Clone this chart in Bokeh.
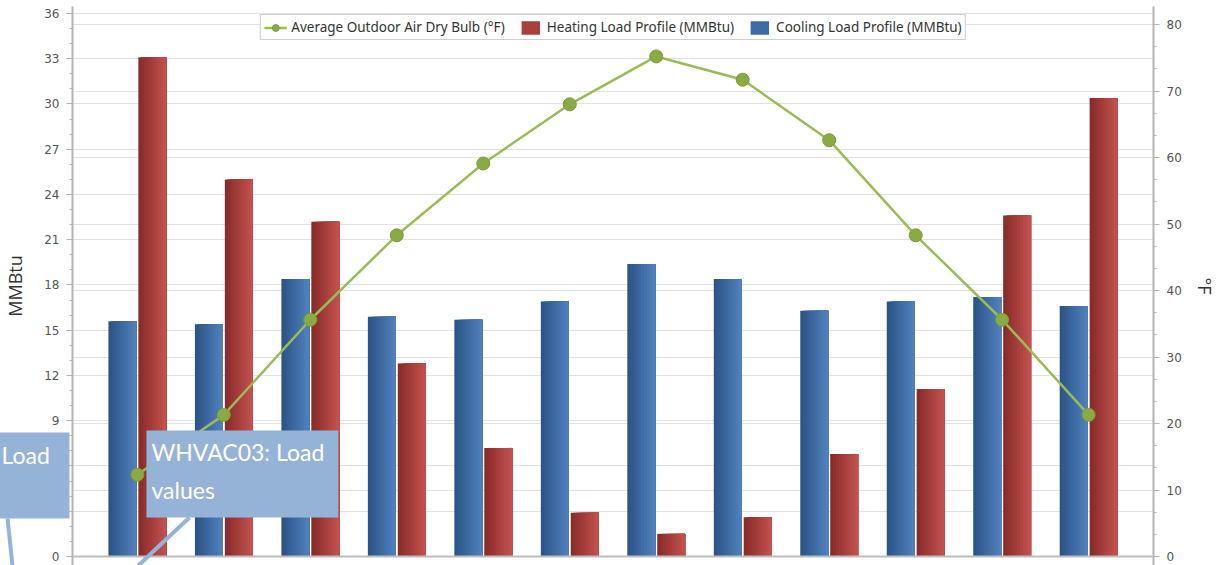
import numpy as np
from bokeh.plotting import figure
from bokeh.models import (Range1d, LinearAxis, SingleIntervalTicker, Grid, Legend,
                          LegendItem, Span)
from bokeh.core.properties import value
from bokeh.embed import file_html
from bokeh.resources import INLINE

# ---------------- data ----------------
months = ["Jan", "Feb", "Mar", "Apr", "May", "Jun",
          "Jul", "Aug", "Sep", "Oct", "Nov", "Dec"]
cooling_load = [15.6, 15.4, 18.4, 15.9, 15.7, 16.9, 19.4, 18.4, 16.3, 16.9, 17.2, 16.6]
heating_load = [33.1, 25.0, 22.2, 12.8, 7.2, 2.9, 1.5, 2.6, 6.8, 11.1, 22.6, 30.4]
outdoor_dry_bulb = [12.3, 21.3, 35.6, 48.3, 59.1, 68.0, 75.2, 71.7, 62.6, 48.3, 35.6, 21.3]

legend_labels = ["Average Outdoor Air Dry Bulb (°F)",
                 "Heating Load Profile (MMBtu)",
                 "Cooling Load Profile (MMBtu)"]
left_label = "MMBtu"
right_label = "°F"
callout_texts = ["WHVAC03: Load", "values", "Load"]

# ---------------- figure ----------------
W, H = 1222, 565
p = figure(width=W, height=H, output_backend="svg", toolbar_location=None,
           x_range=Range1d(-0.75, 11.75), y_range=Range1d(-0.597, 36.464),
           x_axis_location=None, y_axis_location="left",
           min_border_left=71, min_border_right=69, min_border_top=6, min_border_bottom=0,
           outline_line_color=None, background_fill_color="white",
           border_fill_color="white")
p.extra_y_ranges = {"temp": Range1d(-1.353, 82.707)}
p.xgrid.visible = False

tick_font = "DejaVu Sans"
ya = p.yaxis[0]
ya.ticker = SingleIntervalTicker(interval=3, num_minor_ticks=3)
p.ygrid.ticker = ya.ticker
p.ygrid.grid_line_color = "#e2e2e2"

ra = LinearAxis(y_range_name="temp",
                ticker=SingleIntervalTicker(interval=10, num_minor_ticks=3))
p.add_layout(ra, "right")
p.add_layout(Grid(dimension=1, ticker=ra.ticker, y_range_name="temp",
                  grid_line_color="#e2e2e2"))

for ax, lab in ((ya, left_label), (ra, right_label)):
    ax.axis_label = lab
    ax.axis_label_text_font = "Open Sans"
    ax.axis_label_text_font_size = "18px"
    ax.axis_label_text_font_style = "normal"
    ax.axis_label_text_color = "#333333"
    ax.axis_label_standoff = 14
    ax.axis_line_color = "#b4b4b4"
    ax.axis_line_width = 2
    ax.major_tick_line_color = "#b4b4b4"
    ax.minor_tick_line_color = "#b4b4b4"
    ax.major_tick_out = 6
    ax.major_tick_in = 0
    ax.minor_tick_out = 3
    ax.minor_tick_in = 0
    ax.major_label_text_font = tick_font
    ax.major_label_text_font_size = "12px"
    ax.major_label_text_color = "#555555"
    ax.major_label_standoff = 7
ra.axis_label_standoff = 8

# ---------------- bars (horizontal shading by strips) ----------------
x = np.arange(len(months))
bw = 0.323
off = 0.173
nstrip = 10


def hex2rgb(h):
    h = h.lstrip("#")
    return tuple(int(h[i:i + 2], 16) for i in (0, 2, 4))


def lerp(c1, c2, t):
    a, b = hex2rgb(c1), hex2rgb(c2)
    return "#%02x%02x%02x" % tuple(int(round(a[i] + (b[i] - a[i]) * t)) for i in range(3))


def draw_bars(vals, offset, c_left, c_right):
    rs = []
    for k in range(nstrip):
        t = k / (nstrip - 1)
        col = lerp(c_left, c_right, t)
        left = x + offset - bw / 2 + k * bw / nstrip
        right = x + offset + bw / 2
        r = p.quad(left=left, right=right, bottom=0, top=vals,
                   fill_color=col, line_color=None)
        rs.append(r)
    return rs


cool_rs = draw_bars(cooling_load, -off, "#2c5487", "#4f80bc")
heat_rs = draw_bars(heating_load, off, "#8a2c2a", "#c0514e")

p.add_layout(Span(location=0, dimension="width", line_color="#bdbdbd", line_width=2))

line_r = p.line(x, outdoor_dry_bulb, y_range_name="temp",
                line_color="#9bbb59", line_width=2.5)
pt_r = p.scatter(x, outdoor_dry_bulb, y_range_name="temp", size=13,
                 fill_color="#8aab43", line_color="#7d9c3a", line_width=1)

legend = Legend(items=[
    LegendItem(label=legend_labels[0], renderers=[line_r, pt_r]),
    LegendItem(label=legend_labels[1], renderers=[heat_rs[nstrip // 2]]),
    LegendItem(label=legend_labels[2], renderers=[cool_rs[nstrip // 2]]),
], location="top_center", orientation="horizontal")
legend.label_text_font = "Noto Sans"
legend.label_text_font_size = "13.5px"
legend.label_text_color = "#333333"
legend.border_line_color = "#a0a0a0"
legend.border_line_width = 1
legend.background_fill_color = "white"
legend.background_fill_alpha = 1
legend.glyph_width = 23
legend.glyph_height = 17
legend.label_standoff = 5
legend.spacing = 14
legend.padding = 3
legend.margin = 8
p.add_layout(legend)

# ---------------- callouts (drawn on the overlay level) ----------------
callout_color = "#95b3d7"
p.segment(x0=[0.602, -1.501], y0=[2.586, 2.519], x1=[0.012, -1.444], y1=[-0.597, -0.597],
          line_color=callout_color, line_width=4, level="overlay")
p.quad(left=[0.105, -1.686], right=[2.323, -0.785], bottom=[2.586, 2.519],
       top=[8.354, 8.221], fill_color=callout_color, line_color=None, level="overlay")
p.text(x=[0.163, 0.163, -1.570], y=[6.90, 4.38, 6.696], text=callout_texts,
       text_color="white", text_font=value("Lato"), text_font_size="23px",
       text_baseline="middle", text_align="left", level="overlay")

open("out.html", "w").write(file_html(p, INLINE))
